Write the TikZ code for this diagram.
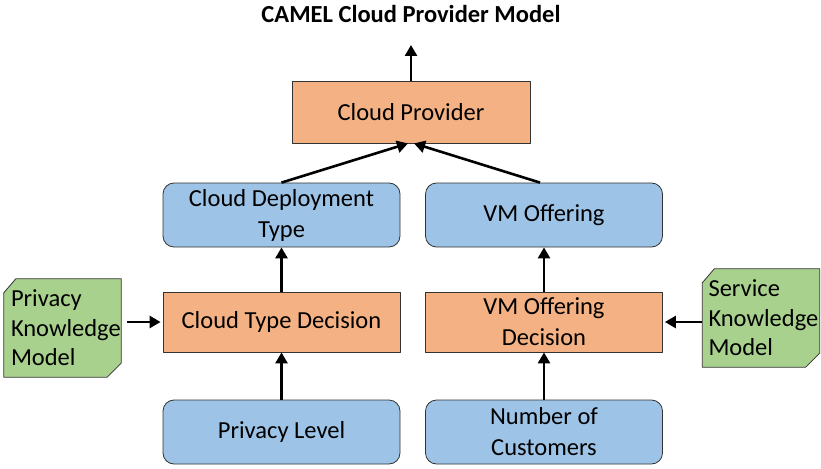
\documentclass[tikz,border=0pt]{standalone}
\usepackage{fontspec}
\setmainfont{Carlito}
\usetikzlibrary{arrows.meta}
\definecolor{orangebox}{HTML}{F4B183}
\definecolor{bluebox}{HTML}{9DC3E6}
\definecolor{greenbox}{HTML}{A9D18E}
\begin{document}
\begin{tikzpicture}[x=1pt, y=-1pt, font=\fontsize{24.5}{31}\selectfont, line join=round,
	arr/.style={line width=2.6pt, -{Triangle[length=11pt,width=12pt]}},
	decision/.style={draw=black!80, line width=0.8pt, fill=orangebox, minimum width=237pt, minimum height=60pt, align=center},
	concept/.style={draw=black!80, line width=0.8pt, fill=bluebox, rounded corners=11pt, minimum width=237pt, minimum height=64pt, align=center},
	knowledge/.style={inner sep=0pt, minimum width=117pt, minimum height=98pt}]
				\useasboundingbox (0,0) rectangle (821,468);
				\node[font=\fontsize{24.5}{28}\selectfont\bfseries] (title) at (411,14) {CAMEL Cloud Provider Model};
				\node[decision, minimum width=238pt, minimum height=62pt] (cp) at (411,112) {Cloud Provider};
				\node[concept] (cdt) at (281.5,215) {Cloud Deployment\\Type};
				\node[concept] (vmo) at (544,215) {VM Offering};
				\node[decision] (ctd) at (281.5,322) {Cloud Type Decision};
				\node[decision] (vod) at (544,322) {VM Offering\\Decision};
				\node[concept] (pl) at (281.5,432) {Privacy Level};
				\node[concept] (noc) at (544,432) {Number of\\Customers};
				\node[knowledge] (pkm) at (62.5,328) {};
				\node[knowledge] (skm) at (761,318) {};
				% green knowledge models, two corners cut
				\foreach \k in {pkm,skm}{
					\draw[draw=black!80, line width=0.8pt, fill=greenbox]
						([yshift=-14pt]\k.north west) -- ([xshift=12pt]\k.north west) -- (\k.north east)
						-- ([yshift=14pt]\k.south east) -- ([xshift=-14pt]\k.south east) -- (\k.south west) -- cycle;}
				\node[anchor=west, align=left, inner sep=0pt, font=\fontsize{24.5}{29.5}\selectfont] (pkmtext) at ([xshift=7pt]pkm.west) {Privacy\\Knowledge\\Model};
				\node[anchor=west, align=left, inner sep=0pt, font=\fontsize{24.5}{29.5}\selectfont] (skmtext) at ([xshift=6pt]skm.west) {Service\\Knowledge\\Model};
				\coordinate (top) at (411,45);
				\draw[arr] (cp.north) -- (top);
				\draw[arr] (cdt.north) -- ([xshift=-3pt]cp.south);
				\draw[arr] ([xshift=-4pt]vmo.north) -- ([xshift=3pt]cp.south);
				\draw[arr] (ctd) -- (cdt);
				\draw[arr] (vod) -- (vmo);
				\draw[arr] (pl) -- (ctd);
				\draw[arr] (noc) -- (vod);
				\draw[arr] ([xshift=6pt]pkm.east |- ctd.west) -- ([xshift=-2pt]ctd.west);
				\draw[arr] (skm.west |- vod.east) -- ([xshift=2pt]vod.east);
	\end{tikzpicture}
\end{document}
